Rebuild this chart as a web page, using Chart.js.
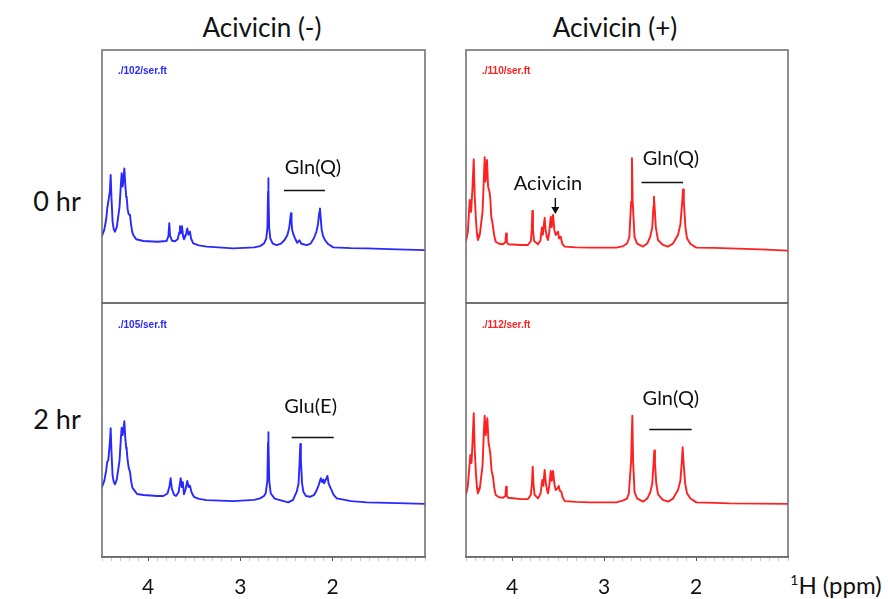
<!DOCTYPE html>
<html>
<head>
<meta charset="utf-8">
<script src="https://cdn.jsdelivr.net/npm/chart.js@4.4.1/dist/chart.umd.min.js"></script>
<style>
  body { margin: 0; background: #fff; width: 888px; height: 599px; overflow: hidden; position: relative;
         font-family: Lato, "Open Sans", sans-serif; color: #111; }
  .box { position: absolute; }
  .lbl { position: absolute; font-size: 26px; white-space: nowrap; transform: translate(-50%, -50%); }
  .row { font-size: 27px; }
  .unit { font-size: 24px; }
  .unit sup { font-size: 14px; }
</style>
</head>
<body>
<div class="lbl" style="left:262px;top:27px">Acivicin (-)</div>
<div class="lbl" style="left:615px;top:27px">Acivicin (+)</div>
<div class="lbl row" style="left:57px;top:200px">0 hr</div>
<div class="lbl row" style="left:57px;top:418px">2 hr</div>
<div class="lbl unit" style="left:836px;top:584px"><sup>1</sup>H (ppm)</div>

<div class="box" style="left:99px;top:47px;width:329px;height:259px"><canvas id="minus0"></canvas></div>
<div class="box" style="left:463px;top:47px;width:328px;height:259px"><canvas id="plus0"></canvas></div>
<div class="box" style="left:99px;top:300px;width:329px;height:297px"><canvas id="minus2"></canvas></div>
<div class="box" style="left:463px;top:300px;width:328px;height:297px"><canvas id="plus2"></canvas></div>

<script>
// ===== DATA (chemical shift in ppm, intensity in % of panel height) =====

const majorTicks = [4, 3, 2];

// Acivicin (-), 0 hr
const ppmMinus0 = [4.50, 4.475, 4.455, 4.443, 4.415, 4.406, 4.398, 4.385, 4.372, 4.359, 4.340, 4.310, 4.295, 4.287,
  4.276, 4.265, 4.258, 4.248, 4.238, 4.232, 4.222, 4.210, 4.197, 4.185, 4.172, 4.161, 4.130, 4.052, 3.90, 3.80,
  3.780, 3.771, 3.762, 3.740, 3.709, 3.680, 3.662, 3.655, 3.645, 3.633, 3.622, 3.612, 3.595, 3.585, 3.576, 3.565,
  3.547, 3.535, 3.511, 3.45, 3.366, 3.077, 2.85, 2.788, 2.745, 2.720, 2.707, 2.701, 2.698, 2.695, 2.689, 2.676,
  2.650, 2.607, 2.560, 2.520, 2.490, 2.470, 2.458, 2.452, 2.446, 2.440, 2.425, 2.409, 2.385, 2.362, 2.340, 2.282,
  2.240, 2.205, 2.178, 2.160, 2.145, 2.138, 2.131, 2.120, 2.105, 2.084, 2.050, 1.994, 1.80, 1.632, 1.30, 1.00];
const intMinus0 = [26.5, 29, 33, 37.4, 44, 50.6, 42, 32, 29, 28.2, 30, 38, 47, 51.3,
  46, 50, 53.2, 47, 42, 41.4, 37, 35, 34.8, 31, 28, 26.9, 25.2, 24.5, 24.2, 24.5,
  26.5, 31.5, 26.5, 24.6, 24.4, 25.2, 28, 30.4, 27.5, 30.4, 26.5, 25.2, 26.5, 28, 29.5, 27,
  28.2, 25.5, 23.6, 22.8, 22.3, 21.6, 22.0, 22.5, 23.5, 25.5, 30, 44, 49.3, 44, 30, 25.5,
  23.5, 22.9, 23.5, 25, 27, 30, 34, 35.5, 32, 29, 27, 25.6, 23.8, 24.8, 23.4, 22.9,
  23.5, 25.5, 28, 31, 36, 37.4, 34, 29, 26.5, 24.9, 23.3, 22.0, 21.7, 21.6, 21.2, 20.9];

// Acivicin (+), 0 hr
const ppmPlus0 = [4.50, 4.480, 4.460, 4.445, 4.430, 4.416, 4.405, 4.392, 4.380, 4.370, 4.350, 4.320, 4.305, 4.297,
  4.288, 4.272, 4.260, 4.245, 4.236, 4.225, 4.214, 4.195, 4.177, 4.140, 4.098, 4.072, 4.064, 4.056, 4.040, 3.90,
  3.826, 3.795, 3.785, 3.779, 3.772, 3.760, 3.717, 3.690, 3.675, 3.665, 3.645, 3.635, 3.620, 3.609, 3.595, 3.579,
  3.568, 3.554, 3.540, 3.525, 3.500, 3.488, 3.471, 3.455, 3.427, 3.300, 3.155, 2.866, 2.790, 2.750, 2.725, 2.705,
  2.696, 2.688, 2.668, 2.640, 2.576, 2.530, 2.497, 2.475, 2.463, 2.457, 2.450, 2.437, 2.413, 2.360, 2.304, 2.250,
  2.196, 2.170, 2.150, 2.141, 2.132, 2.115, 2.098, 2.060, 1.997, 1.800, 1.634, 1.30, 1.00];
const intPlus0 = [24.5, 28, 40.7, 36, 45, 56.8, 42, 33, 27, 24.9, 27, 36, 50, 57.6,
  48, 56.5, 46, 44, 41.4, 34, 32.1, 27, 24.2, 23.4, 23.2, 24, 27.5, 24, 23.2, 22.9,
  22.9, 24.5, 29, 36.4, 29, 24.5, 23.2, 24.8, 29.9, 27, 33.7, 29, 26, 24.9, 28, 34.1,
  30, 34.8, 29, 26.9, 28.2, 25.5, 26.2, 23.5, 22.3, 22, 21.9, 21.9, 22.5, 23.5, 26, 40,
  57.2, 40, 26, 23.5, 22.3, 23.5, 26.2, 30, 38, 42.0, 38, 30, 24.9, 23, 22.3, 23.5,
  26.9, 31, 40, 44.9, 40, 30, 25.6, 23.3, 21.9, 21.8, 21.6, 21.2, 20.7];

// Acivicin (-), 2 hr
const ppmMinus2 = [4.50, 4.475, 4.455, 4.443, 4.432, 4.415, 4.406, 4.398, 4.385, 4.372, 4.359, 4.340, 4.310, 4.295,
  4.287, 4.276, 4.265, 4.258, 4.248, 4.238, 4.232, 4.222, 4.210, 4.197, 4.185, 4.172, 4.161, 4.120, 4.052, 3.900,
  3.836, 3.790, 3.768, 3.756, 3.744, 3.720, 3.698, 3.670, 3.655, 3.647, 3.635, 3.624, 3.612, 3.595, 3.576, 3.560,
  3.547, 3.530, 3.504, 3.450, 3.366, 3.077, 2.850, 2.788, 2.745, 2.726, 2.708, 2.701, 2.698, 2.695, 2.688, 2.672,
  2.630, 2.571, 2.481, 2.430, 2.390, 2.370, 2.358, 2.351, 2.345, 2.332, 2.318, 2.290, 2.246, 2.200, 2.173, 2.150,
  2.138, 2.129, 2.115, 2.100, 2.093, 2.075, 2.057, 2.045, 2.021, 1.990, 1.956, 1.800, 1.631, 1.300, 1.000];
const intMinus2 = [27.5, 30, 34, 37.5, 38, 45, 50.7, 42, 32, 29.5, 28.6, 30.5, 38, 47,
  50.9, 48, 51, 53.5, 47, 43, 42.1, 38, 35, 33.6, 30, 27.5, 26.8, 24.8, 24.4, 24.0,
  24.0, 25, 28, 31.0, 27, 24.5, 24.0, 25.5, 29, 31.0, 27.5, 29.5, 24.7, 26.5, 29.9, 27.5,
  28.1, 25.5, 23.7, 22.9, 22.4, 22.0, 22.5, 23.1, 24, 25.1, 30, 45, 49.1, 45, 30, 25.1,
  23, 22.4, 21.5, 22.5, 25.7, 29, 38, 44.5, 38, 29, 25.7, 24, 23.7, 24.5, 26.4, 28.5,
  30, 31.0, 29.5, 30.5, 29.0, 30.5, 31.9, 29, 27.0, 24.5, 23.1, 22, 21.5, 21.2, 20.9];

// Acivicin (+), 2 hr
const ppmPlus2 = [4.50, 4.480, 4.453, 4.440, 4.428, 4.416, 4.405, 4.392, 4.380, 4.370, 4.350, 4.320, 4.305, 4.297,
  4.285, 4.268, 4.255, 4.245, 4.236, 4.222, 4.207, 4.192, 4.177, 4.140, 4.098, 4.072, 4.064, 4.056, 4.040, 3.900,
  3.826, 3.795, 3.783, 3.775, 3.767, 3.755, 3.717, 3.690, 3.671, 3.660, 3.645, 3.632, 3.620, 3.609, 3.595, 3.579,
  3.568, 3.554, 3.540, 3.525, 3.505, 3.492, 3.478, 3.464, 3.450, 3.427, 3.300, 3.155, 2.866, 2.790, 2.750, 2.730,
  2.705, 2.692, 2.684, 2.668, 2.640, 2.576, 2.530, 2.497, 2.475, 2.461, 2.453, 2.446, 2.432, 2.413, 2.360, 2.304,
  2.250, 2.196, 2.170, 2.153, 2.145, 2.137, 2.118, 2.098, 2.060, 1.997, 1.800, 1.634, 1.300, 1.000];
const intPlus2 = [24.5, 28, 40.2, 37, 46, 56.6, 42, 33, 27, 25.1, 27, 36, 50, 55.6,
  48, 54.6, 45, 43, 40.8, 34, 31.6, 27, 24.4, 23.5, 23.3, 24, 27.7, 24, 23.3, 22.8,
  22.8, 24.5, 29, 35.6, 29, 24.5, 23.1, 25, 30.3, 28, 34.3, 29, 26.5, 25.1, 28, 33.9,
  30, 33.9, 29, 26.4, 27, 28.0, 26, 25.7, 23.5, 22.0, 21.7, 21.5, 21.5, 22.3, 23, 25,
  38, 55.6, 38, 25.5, 23.1, 21.8, 23, 25.5, 29, 37, 41.9, 37, 29, 24.7, 22.5, 21.8,
  23, 26.4, 30, 38, 43.2, 38, 29, 25.1, 23, 21.5, 21.3, 21.1, 21.0, 20.9];

// ===== CHART SETUP =====

const PAD = 3;
const AXIS_H = 40;
const BLUE = '#2828ff';
const RED = '#ff2020';
const isMajor = v => majorTicks.includes(Math.round(v * 10) / 10);

const framePlugin = {
  id: 'frame',
  afterDraw(chart) {
    const { ctx, chartArea: a } = chart;
    ctx.save();
    ctx.strokeStyle = '#6a6a6a';
    ctx.lineWidth = 1.5;
    ctx.strokeRect(a.left, a.top, a.right - a.left, a.bottom - a.top);
    ctx.restore();
  }
};

const notesPlugin = {
  id: 'notes',
  afterDatasetsDraw(chart, args, opts) {
    const { ctx, chartArea: a, scales: { x, y } } = chart;
    ctx.save();
    ctx.font = 'bold 10px "Liberation Sans", Arial, sans-serif';
    ctx.fillStyle = opts.color;
    ctx.textAlign = 'left';
    ctx.textBaseline = 'middle';
    ctx.fillText(opts.file, a.left + 16, a.top + opts.fileY);

    ctx.fillStyle = '#111';
    ctx.strokeStyle = '#111';
    ctx.font = '20px Lato, "Open Sans", sans-serif';
    ctx.textAlign = 'center';
    (opts.texts || []).forEach(t => ctx.fillText(t.text, x.getPixelForValue(t.ppm), y.getPixelForValue(t.v)));

    ctx.lineWidth = 1.4;
    (opts.bars || []).forEach(b => {
      const yy = Math.round(y.getPixelForValue(b.v)) + 0.5;
      ctx.beginPath();
      ctx.moveTo(x.getPixelForValue(b.from), yy);
      ctx.lineTo(x.getPixelForValue(b.to), yy);
      ctx.stroke();
    });

    (opts.arrows || []).forEach(ar => {
      const xx = x.getPixelForValue(ar.ppm);
      const y0 = y.getPixelForValue(ar.from);
      const y1 = y.getPixelForValue(ar.to);
      ctx.beginPath();
      ctx.moveTo(xx, y0);
      ctx.lineTo(xx, y1 - 5);
      ctx.stroke();
      ctx.beginPath();
      ctx.moveTo(xx - 4, y1 - 7);
      ctx.lineTo(xx + 4, y1 - 7);
      ctx.lineTo(xx, y1);
      ctx.closePath();
      ctx.fill();
    });
    ctx.restore();
  }
};

function panel(id, ppm, ints, color, withAxis, notes) {
  const ctx = document.getElementById(id);
  const xScale = {
    type: 'linear',
    reverse: true,
    min: 1.0,
    max: 4.5,
    display: withAxis
  };
  if (withAxis) {
    Object.assign(xScale, {
      ticks: {
        stepSize: 0.1,
        autoSkip: false,
        maxRotation: 0,
        padding: 14,
        color: '#111',
        font: { family: 'Lato', size: 21 },
        callback: v => isMajor(v) ? String(Math.round(v)) : ''
      },
      grid: {
        drawOnChartArea: false,
        drawTicks: true,
        tickLength: 4,
        tickWidth: 1,
        tickColor: c => isMajor(c.tick.value) ? '#555' : '#c8c8c8'
      },
      border: { color: '#6a6a6a', width: 1.5 },
      afterFit: s => {
        s.height = AXIS_H;
        s.paddingLeft = 0;
        s.paddingRight = 0;
      }
    });
  }
  return new Chart(ctx, {
    type: 'line',
    data: {
      datasets: [{
        data: ppm.map((p, i) => ({ x: p, y: ints[i] })),
        borderColor: color,
        borderWidth: 1.9,
        borderJoinStyle: 'round',
        pointRadius: 0,
        tension: 0,
        fill: false
      }]
    },
    options: {
      responsive: true,
      maintainAspectRatio: false,
      animation: false,
      events: [],
      layout: { padding: withAxis ? { left: PAD, right: PAD, top: PAD, bottom: 0 } : PAD },
      plugins: { legend: { display: false }, tooltip: { enabled: false }, notes },
      scales: {
        x: xScale,
        y: { min: 0, max: 100, display: false }
      }
    },
    plugins: [framePlugin, notesPlugin]
  });
}

panel('minus0', ppmMinus0, intMinus0, BLUE, false, {
  file: './102/ser.ft', fileY: 21, color: BLUE,
  texts: [{ text: 'Gln(Q)', ppm: 2.214, v: 53.4 }],
  bars: [{ from: 2.528, to: 2.084, v: 44.7 }]
});
panel('plus0', ppmPlus0, intPlus0, RED, false, {
  file: './110/ser.ft', fileY: 21, color: RED,
  texts: [{ text: 'Gln(Q)', ppm: 2.272, v: 56.9 }, { text: 'Acivicin', ppm: 3.609, v: 47.3 }],
  bars: [{ from: 2.592, to: 2.141, v: 48.0 }],
  arrows: [{ ppm: 3.529, from: 41.5, to: 35.2 }]
});
panel('minus2', ppmMinus2, intMinus2, BLUE, true, {
  file: './105/ser.ft', fileY: 22, color: BLUE,
  texts: [{ text: 'Glu(E)', ppm: 2.239, v: 59.2 }],
  bars: [{ from: 2.445, to: 1.989, v: 47.1 }]
});
panel('plus2', ppmPlus2, intPlus2, RED, true, {
  file: './112/ser.ft', fileY: 22, color: RED,
  texts: [{ text: 'Gln(Q)', ppm: 2.274, v: 62.5 }],
  bars: [{ from: 2.508, to: 2.047, v: 50.4 }]
});
</script>
</body>
</html>
